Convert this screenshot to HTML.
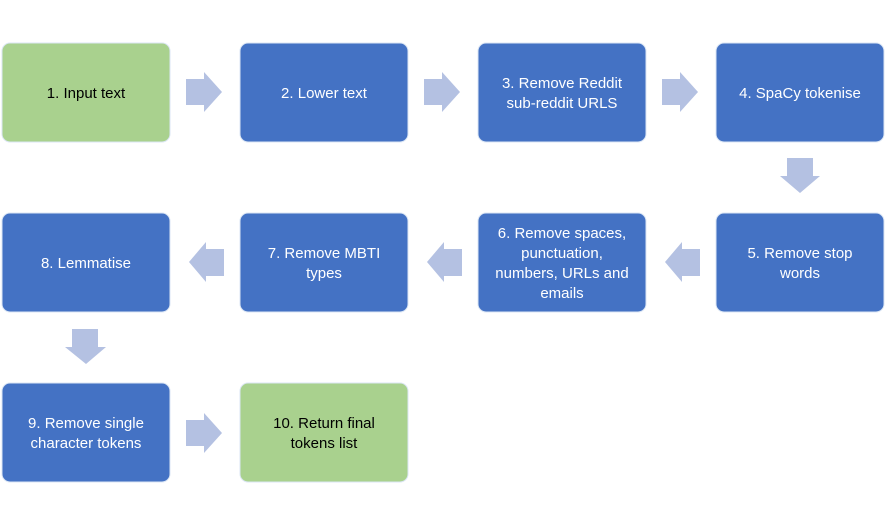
<!DOCTYPE html>
<html><head><meta charset="utf-8"><style>
html,body{margin:0;padding:0;background:#fff;width:885px;height:525px;overflow:hidden}
svg text{font-family:"Liberation Sans",sans-serif;font-size:15px;fill:#fff;text-anchor:middle}
</style></head><body>
<svg width="885" height="525" xmlns="http://www.w3.org/2000/svg">
<g stroke="#dbe6f4" stroke-width="1">
<rect x="2" y="43" width="168" height="99" rx="8" fill="#A9D18E"/>
<rect x="240" y="43" width="168" height="99" rx="8" fill="#4472C4"/>
<rect x="478" y="43" width="168" height="99" rx="8" fill="#4472C4"/>
<rect x="716" y="43" width="168" height="99" rx="8" fill="#4472C4"/>
<rect x="716" y="213" width="168" height="99" rx="8" fill="#4472C4"/>
<rect x="478" y="213" width="168" height="99" rx="8" fill="#4472C4"/>
<rect x="240" y="213" width="168" height="99" rx="8" fill="#4472C4"/>
<rect x="2" y="213" width="168" height="99" rx="8" fill="#4472C4"/>
<rect x="2" y="383" width="168" height="99" rx="8" fill="#4472C4"/>
<rect x="240" y="383" width="168" height="99" rx="8" fill="#A9D18E"/>
</g>
<g fill="#B4C1E2">
<polygon points="186,79 204,79 204,72 222,92 204,112 204,105 186,105"/>
<polygon points="424,79 442,79 442,72 460,92 442,112 442,105 424,105"/>
<polygon points="662,79 680,79 680,72 698,92 680,112 680,105 662,105"/>
<polygon points="787,158 813,158 813,176 820,176 800,193 780,176 787,176"/>
<polygon points="700,249 682,249 682,242 665,262 682,282 682,276 700,276"/>
<polygon points="462,249 444,249 444,242 427,262 444,282 444,276 462,276"/>
<polygon points="224,249 206,249 206,242 189,262 206,282 206,276 224,276"/>
<polygon points="72,329 98,329 98,347 106,347 86,364 65,347 72,347"/>
<polygon points="186,420 204,420 204,413 222,433 204,453 204,446 186,446"/>
</g>
<g>
<text x="86" y="98" fill="#000" style="fill:#000">1. Input text</text>
<text x="324" y="98">2. Lower text</text>
<text x="562" y="88">3. Remove Reddit</text>
<text x="562" y="108">sub-reddit URLS</text>
<text x="800" y="98">4. SpaCy tokenise</text>
<text x="800" y="258">5. Remove stop</text>
<text x="800" y="278">words</text>
<text x="562" y="238">6. Remove spaces,</text>
<text x="562" y="258">punctuation,</text>
<text x="562" y="278">numbers, URLs and</text>
<text x="562" y="298">emails</text>
<text x="324" y="258">7. Remove MBTI</text>
<text x="324" y="278">types</text>
<text x="86" y="268">8. Lemmatise</text>
<text x="86" y="428">9. Remove single</text>
<text x="86" y="448">character tokens</text>
<text x="324" y="428" style="fill:#000">10. Return final</text>
<text x="324" y="448" style="fill:#000">tokens list</text>
</g>
</svg>
</body></html>
